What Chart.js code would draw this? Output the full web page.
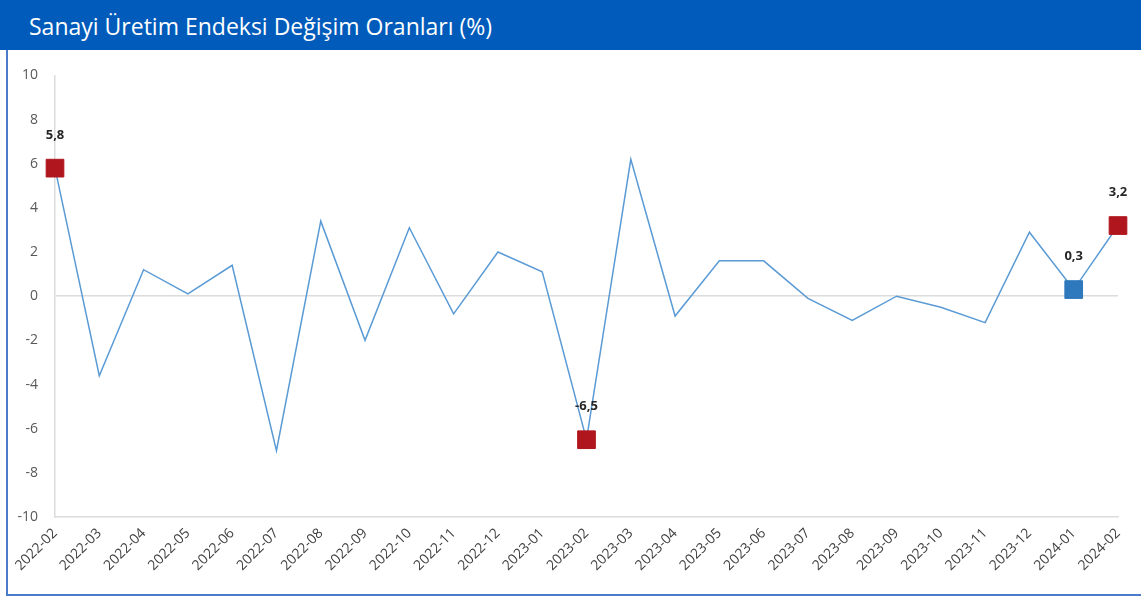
<!DOCTYPE html>
<html lang="tr">
<head>
<meta charset="utf-8">
<title>Sanayi Üretim Endeksi Değişim Oranları</title>
<script src="https://cdn.jsdelivr.net/npm/chart.js@4"></script>
<style>
    html, body { margin: 0; padding: 0; background: #fff; }
    body { width: 1141px; height: 600px; position: relative; overflow: hidden; font-family: "Open Sans", "Noto Sans", sans-serif; }
    .baslik {
        position: absolute; left: 0; top: 0; width: 1141px; height: 50px;
        background: #005bbb; color: #fff; font-size: 23px; line-height: 52px;
        box-sizing: border-box; padding-left: 29px;
    }
    .cerceve {
        position: absolute; left: 6px; top: 50px; width: 1135px; height: 546px;
        border-left: 2px solid #4a7cc9; border-bottom: 2px solid #4a7cc9; box-sizing: border-box;
    }
    #grafik-kutu { position: absolute; left: 0; top: 50px; width: 1141px; height: 550px; }
</style>
</head>
<body>
<div class="baslik">Sanayi Üretim Endeksi Değişim Oranları (%)</div>
<div class="cerceve"></div>
<div id="grafik-kutu"><canvas id="grafik"></canvas></div>
<script>
    // --- Veriler ---
    const aylar = [
        '2022-02', '2022-03', '2022-04', '2022-05', '2022-06', '2022-07', '2022-08',
        '2022-09', '2022-10', '2022-11', '2022-12', '2023-01', '2023-02', '2023-03',
        '2023-04', '2023-05', '2023-06', '2023-07', '2023-08', '2023-09', '2023-10',
        '2023-11', '2023-12', '2024-01', '2024-02'
    ];
    const degisim = [
        5.8, -3.6, 1.2, 0.1, 1.4, -7.0, 3.4,
        -2.0, 3.1, -0.8, 2.0, 1.1, -6.5, 6.2,
        -0.9, 1.6, 1.6, -0.1, -1.1, 0.0, -0.5,
        -1.2, 2.9, 0.3, 3.2
    ];
    // işaretli aylar ve renkleri
    const kirmiziAylar = ['2022-02', '2023-02', '2024-02'];
    const maviAylar = ['2024-01'];
    const yEksen = { min: -10, max: 10, adim: 2 };

    const KIRMIZI = '#b0161d';
    const MAVI = '#2e78bd';
    const CIZGI = '#5b9bd5';
    const YAZI = '"Open Sans", "Noto Sans", sans-serif';

    function isaretRengi(ay) {
        if (kirmiziAylar.includes(ay)) return KIRMIZI;
        if (maviAylar.includes(ay)) return MAVI;
        return CIZGI;
    }
    function isaretli(ay) {
        return kirmiziAylar.includes(ay) || maviAylar.includes(ay);
    }

    // İşaretli noktaların üstüne değer yazısı
    const degerEtiketleri = {
        id: 'degerEtiketleri',
        afterDatasetsDraw(chart) {
            const meta = chart.getDatasetMeta(0);
            const ctx = chart.ctx;
            ctx.save();
            ctx.font = 'bold 13px ' + YAZI;
            ctx.fillStyle = '#262626';
            ctx.textAlign = 'center';
            ctx.textBaseline = 'middle';
            meta.data.forEach((pt, i) => {
                if (!isaretli(aylar[i])) return;
                const metin = degisim[i].toFixed(1).replace('.', ',');
                ctx.fillText(metin, pt.x, pt.y - 33);
            });
            ctx.restore();
        }
    };

    new Chart(document.getElementById('grafik'), {
        type: 'line',
        data: {
            labels: aylar,
            datasets: [{
                data: degisim,
                borderColor: CIZGI,
                borderWidth: 1.5,
                tension: 0,
                clip: false,
                pointStyle: 'rect',
                pointRadius: aylar.map(a => isaretli(a) ? 12.5 : 0),
                pointHoverRadius: aylar.map(a => isaretli(a) ? 12.5 : 0),
                pointBackgroundColor: aylar.map(isaretRengi),
                pointBorderColor: aylar.map(isaretRengi),
                pointBorderWidth: 1
            }]
        },
        options: {
            responsive: true,
            maintainAspectRatio: false,
            animation: false,
            layout: { padding: { top: 24, right: 23, left: 0, bottom: 0 } },
            plugins: {
                legend: { display: false },
                tooltip: { enabled: false }
            },
            scales: {
                x: {
                    offset: false,
                    grid: { display: false, drawTicks: false },
                    border: { display: true, color: '#dcdcdc', width: 1.5 },
                    ticks: {
                        color: '#404040',
                        font: { size: 14, family: YAZI },
                        minRotation: 45, maxRotation: 45, autoSkip: false, padding: 8
                    },
                    afterFit(scale) { scale.height = 83; }
                },
                y: {
                    min: yEksen.min,
                    max: yEksen.max,
                    grid: {
                        drawTicks: false,
                        lineWidth: 1.5,
                        color: c => c.tick && c.tick.value === 0 ? '#dcdcdc' : 'transparent'
                    },
                    border: { display: true, color: '#dcdcdc', width: 1.5 },
                    ticks: {
                        stepSize: yEksen.adim,
                        color: '#595959',
                        padding: 17,
                        font: { size: 14, family: YAZI }
                    },
                    afterFit(scale) { scale.width = 55; }
                }
            }
        },
        plugins: [degerEtiketleri]
    });
</script>
</body>
</html>
